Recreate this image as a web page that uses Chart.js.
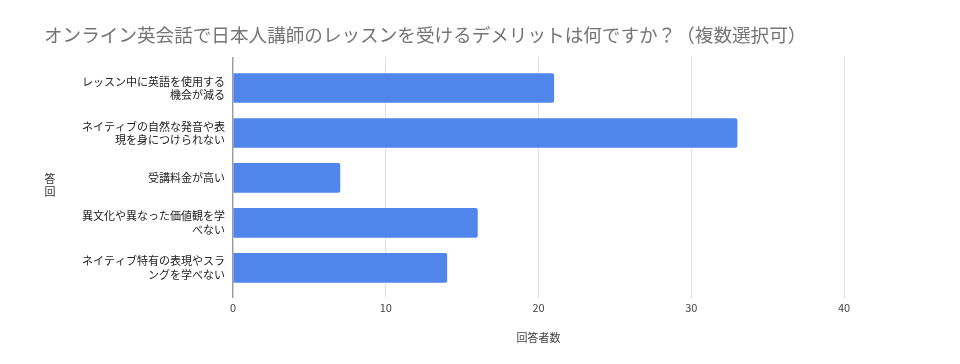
<!DOCTYPE html>
<html><head><meta charset="utf-8">
<script src="https://cdn.jsdelivr.net/npm/chart.js@4/dist/chart.umd.min.js"></script>
<style>html,body{margin:0;padding:0;background:#fff}#wrap{width:960px;height:364px}</style>
</head><body><div id="wrap"><canvas id="c" width="960" height="364"></canvas></div>
<script>
const titleText = 'オンライン英会話で日本人講師のレッスンを受けるデメリットは何ですか？（複数選択可）';
const categories = [
  ['レッスン中に英語を使用する', '機会が減る'],
  ['ネイティブの自然な発音や表', '現を身につけられない'],
  ['受講料金が高い'],
  ['異文化や異なった価値観を学', 'べない'],
  ['ネイティブ特有の表現やスラ', 'ングを学べない']
];
const values = [21, 33, 7, 16, 14];
const xTicks = [0, 10, 20, 30, 40];
const xTitle = '回答者数';
const yTitleChars = ['答', '回'];

const FONT = '"Noto Sans CJK JP", "Noto Sans", sans-serif';

const overlay = {
  id: 'overlay',
  afterDraw(chart) {
    const ctx = chart.ctx;
    ctx.save();
    ctx.fillStyle = '#757575';
    ctx.font = '18.6px ' + FONT;
    ctx.textAlign = 'left';
    ctx.textBaseline = 'middle';
    ctx.fillText(titleText, 44, 35);
    ctx.fillStyle = '#333';
    ctx.font = '11px ' + FONT;
    ctx.textAlign = 'center';
    yTitleChars.forEach((ch, i) => ctx.fillText(ch, 50, 179 + i * 13));
    ctx.restore();
  }
};

new Chart(document.getElementById('c'), {
  type: 'bar',
  data: {
    datasets: [{
      data: values.map((v, i) => ({ x: v, y: i })),
      backgroundColor: '#5085ec',
      borderRadius: 2,
      borderSkipped: 'start',
      barThickness: 29
    }]
  },
  options: {
    indexAxis: 'y',
    responsive: false,
    animation: false,
    layout: { padding: { top: 57, right: 116, left: 0, bottom: 0 } },
    plugins: { legend: { display: false }, tooltip: { enabled: false }, title: { display: false } },
    scales: {
      x: {
        type: 'linear',
        min: 0, max: 40,
        afterBuildTicks: s => { s.ticks = xTicks.map(v => ({ value: v })); },
        afterFit: s => { s.height = 66; },
        grid: {
          color: c => (c.tick && c.tick.value === 0) ? '#9e9e9e' : '#e0e0e0',
          lineWidth: c => (c.tick && c.tick.value === 0) ? 1.5 : 1,
          drawTicks: false
        },
        border: { display: false },
        ticks: { color: '#444', font: { family: FONT, size: 11 }, padding: 3 },
        title: { display: true, text: xTitle, color: '#444', font: { family: FONT, size: 11 }, padding: { top: 14, bottom: 20 } }
      },
      y: {
        type: 'linear',
        reverse: true,
        offset: false,
        min: -0.69, max: 4.67,
        afterBuildTicks: s => { s.ticks = categories.map((c, i) => ({ value: i })); },
        afterFit: s => { s.width = 233; },
        grid: { display: false, drawTicks: false },
        border: { display: false },
        ticks: {
          color: '#222',
          font: { family: FONT, size: 11, lineHeight: 1.2 },
          padding: 8,
          callback: v => categories[v]
        }
      }
    }
  },
  plugins: [overlay]
});
</script></body></html>
